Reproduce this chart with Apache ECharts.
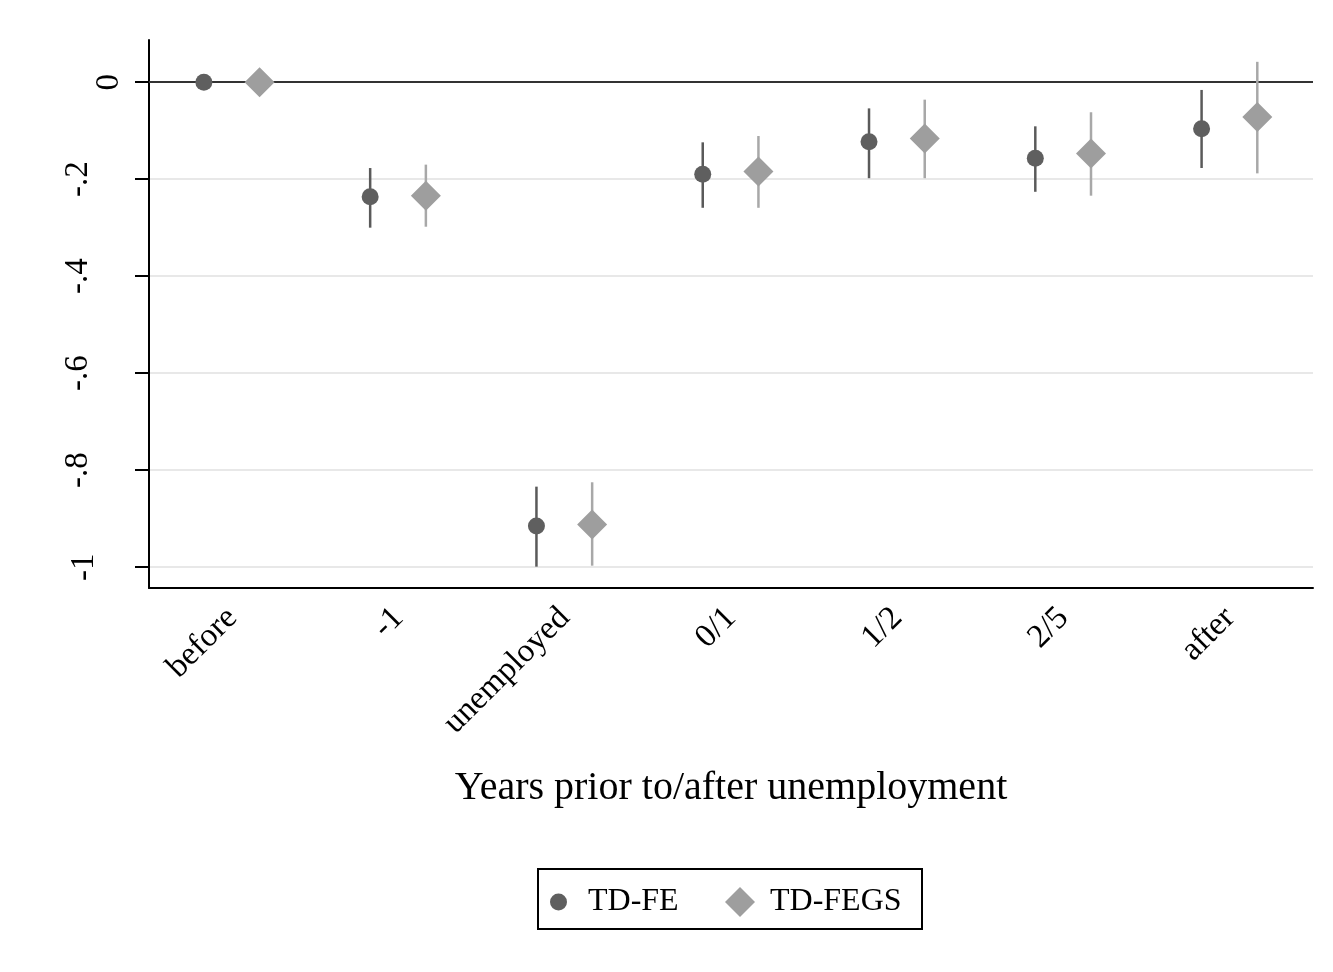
<!DOCTYPE html>
<html>
<head>
<meta charset="utf-8">
<script src="https://cdn.jsdelivr.net/npm/echarts@6/dist/echarts.min.js"></script>
<style>
  html, body { margin: 0; padding: 0; background: #fff; }
  #chart { width: 1333px; height: 972px; }
</style>
</head>
<body>
<div id="chart"></div>
<script>
// Periods relative to the unemployment spell
const categories = ['before', '-1', 'unemployed', '0/1', '1/2', '2/5', 'after'];

// TD-FE: point estimates and 95% confidence bounds
const feEst   = [0, -0.236, -0.915, -0.190, -0.123, -0.157, -0.096];
const feLow   = [0, -0.300, -0.999, -0.259, -0.198, -0.226, -0.177];
const feHigh  = [0, -0.177, -0.834, -0.124, -0.054, -0.091, -0.016];

// TD-FEGS: point estimates and 95% confidence bounds
const fegsEst  = [0, -0.234, -0.912, -0.184, -0.116, -0.147, -0.072];
const fegsLow  = [0, -0.298, -0.997, -0.259, -0.198, -0.234, -0.188];
const fegsHigh = [0, -0.170, -0.825, -0.111, -0.036, -0.062, 0.042];

// Labelled ticks on the vertical axis
const yTicks = [-1, -0.8, -0.6, -0.4, -0.2, 0];

const FONT = "'Liberation Serif', 'Times New Roman', serif";
const FE_SHIFT = -0.17;
const FEGS_SHIFT = 0.165;
const FE_COLOR = '#5f5f5f';
const FEGS_COLOR = '#9e9e9e';

function points(est, shift) {
  return est.map((v, i) => [i + shift, v]);
}
function ranges(lo, hi, shift) {
  return lo.map((v, i) => [i + shift, v, hi[i]]);
}
function errorBars(color) {
  return function (params, api) {
    const a = api.coord([api.value(0), api.value(1)]);
    const b = api.coord([api.value(0), api.value(2)]);
    return {
      type: 'line',
      shape: { x1: a[0], y1: a[1], x2: b[0], y2: b[1] },
      style: { stroke: color, lineWidth: 2.5 }
    };
  };
}
// Stata-style tick text (-.2, -1, 0); the short labels sit closer to the axis
function tickText(v) {
  if (Math.abs(v) < 1e-9) return '{z|0}';
  const s = String(Math.round(v * 10) / 10).replace('0.', '.');
  return s.length <= 2 ? '{w|' + s + '}' : '{n|' + s + '}';
}

const chart = echarts.init(document.getElementById('chart'), null, { renderer: 'canvas' });

chart.setOption({
  animation: false,
  backgroundColor: '#ffffff',
  grid: { left: 149, right: 20, top: 40, bottom: 384 },
  xAxis: [
    {
      type: 'category',
      data: categories,
      boundaryGap: true,
      name: 'Years prior to/after unemployment',
      nameLocation: 'middle',
      nameGap: 180,
      nameTextStyle: { fontFamily: FONT, fontSize: 40, color: '#000' },
      axisLine: { onZero: false, lineStyle: { color: '#000', width: 2 } },
      axisTick: { alignWithLabel: true, length: 14, lineStyle: { color: '#000', width: 2 } },
      axisLabel: { rotate: 45, margin: 25, fontFamily: FONT, fontSize: 33, color: '#000' },
      splitLine: { show: false }
    },
    {
      type: 'value',
      min: -0.5,
      max: 6.5,
      show: false
    }
  ],
  yAxis: {
    type: 'value',
    min: -1.043,
    max: 0.087,
    axisLine: { show: true, onZero: false, lineStyle: { color: '#000', width: 2 } },
    axisTick: { show: true, length: 14, customValues: yTicks, lineStyle: { color: '#000', width: 2 } },
    axisLabel: {
      rotate: 90, margin: 23, customValues: yTicks,
      fontFamily: FONT, fontSize: 33, color: '#000', formatter: tickText,
      rich: {
        n: { fontFamily: FONT, fontSize: 33, color: '#000', padding: [0, 0, 31, 0] },
        w: { fontFamily: FONT, fontSize: 33, color: '#000', padding: [0, 0, 25, 0] },
        z: { fontFamily: FONT, fontSize: 33, color: '#000', padding: [0, 0, 0, 0] }
      }
    },
    splitLine: { show: true, showMinLine: true, showMaxLine: true, lineStyle: { color: '#e8e8e8', width: 2 } }
  },
  legend: [
    {
      data: ['TD-FE'],
      left: 550, top: 886, padding: 0,
      itemWidth: 17, itemHeight: 17,
      textStyle: { fontFamily: FONT, fontSize: 32, color: '#000', padding: [0, 0, 0, 16] },
      selectedMode: false
    },
    {
      data: ['TD-FEGS'],
      left: 725, top: 886, padding: 0,
      itemWidth: 30, itemHeight: 30,
      textStyle: { fontFamily: FONT, fontSize: 32, color: '#000', padding: [0, 0, 0, 10] },
      selectedMode: false
    }
  ],
  graphic: [
    {
      type: 'rect',
      shape: { x: 538, y: 869, width: 384, height: 60 },
      style: { fill: 'none', stroke: '#000', lineWidth: 2 },
      silent: true
    }
  ],
  series: [
    {
      name: 'TD-FE bounds',
      type: 'custom',
      xAxisIndex: 1,
      renderItem: errorBars('#5a5a5a'),
      encode: { x: 0, y: [1, 2] },
      data: ranges(feLow, feHigh, FE_SHIFT),
      z: 2,
      silent: true
    },
    {
      name: 'TD-FEGS bounds',
      type: 'custom',
      xAxisIndex: 1,
      renderItem: errorBars('#a8a8a8'),
      encode: { x: 0, y: [1, 2] },
      data: ranges(fegsLow, fegsHigh, FEGS_SHIFT),
      z: 2,
      silent: true
    },
    {
      name: 'TD-FE',
      type: 'scatter',
      xAxisIndex: 1,
      symbol: 'circle',
      symbolSize: 17,
      itemStyle: { color: FE_COLOR, opacity: 1 },
      data: points(feEst, FE_SHIFT),
      z: 4,
      markLine: {
        silent: true,
        symbol: 'none',
        label: { show: false },
        lineStyle: { color: '#333333', width: 2, type: 'solid' },
        data: [{ yAxis: 0 }],
        z: 1
      }
    },
    {
      name: 'TD-FEGS',
      type: 'scatter',
      xAxisIndex: 1,
      symbol: 'diamond',
      symbolSize: 30,
      itemStyle: { color: FEGS_COLOR, opacity: 1 },
      data: points(fegsEst, FEGS_SHIFT),
      z: 4
    }
  ]
});
</script>
</body>
</html>
